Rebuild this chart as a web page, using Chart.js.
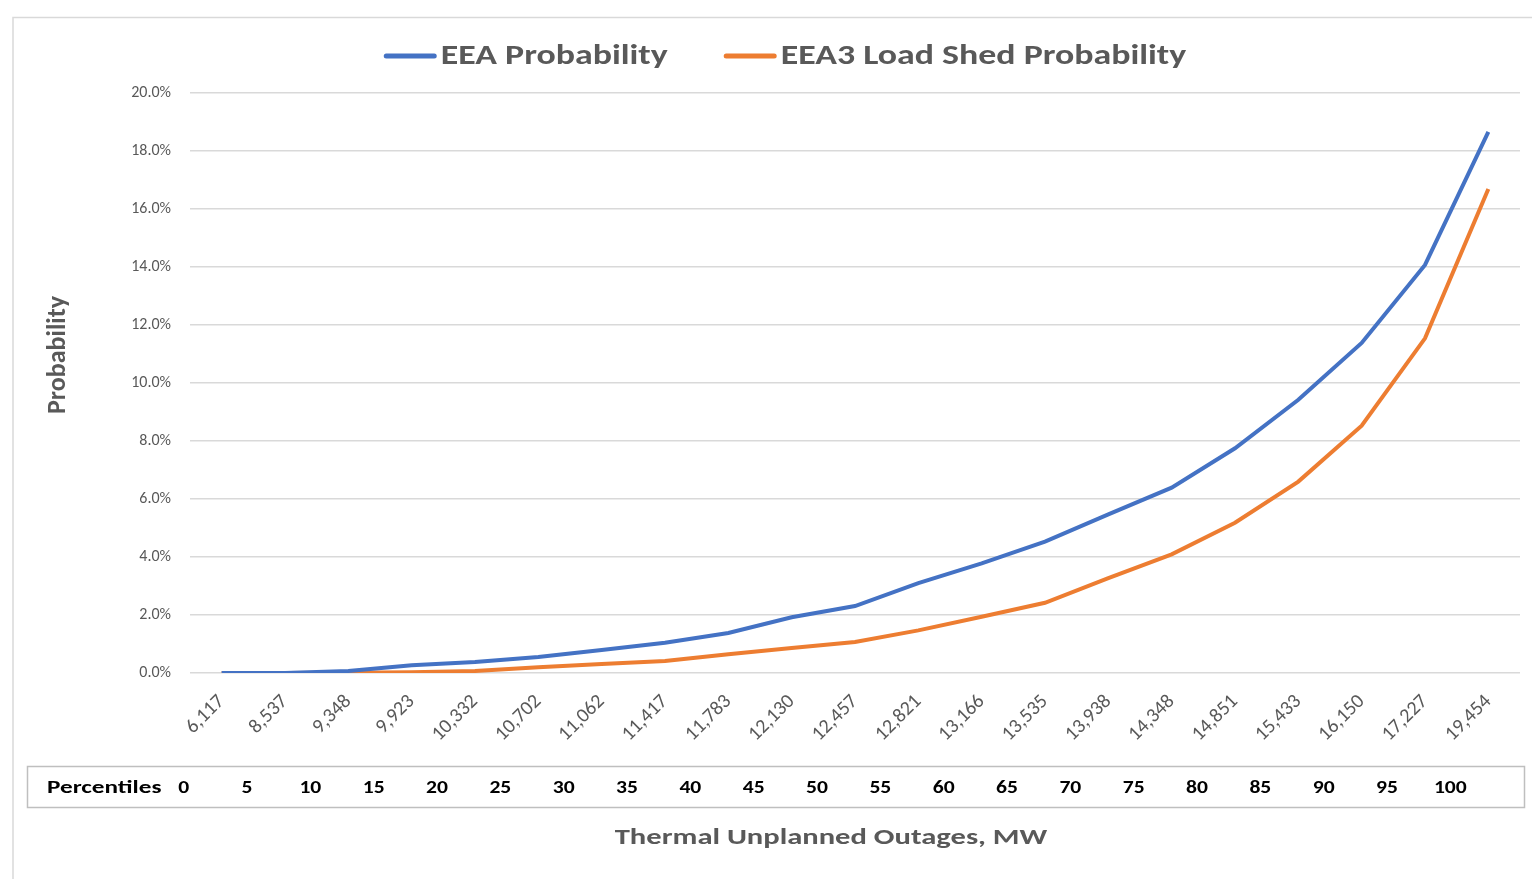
<!DOCTYPE html>
<html>
<head>
<meta charset="utf-8">
<script src="https://cdn.jsdelivr.net/npm/chart.js@4.4.1/dist/chart.umd.min.js"></script>
<style>
  html, body { margin: 0; padding: 0; background: #ffffff; }
  #wrap { position: relative; width: 1532px; height: 879px; }
  canvas { display: block; }
</style>
</head>
<body>
<div id="wrap"><canvas id="c" width="1532" height="879"></canvas></div>
<script>
// ---- data ----
const categories = ["6,117","8,537","9,348","9,923","10,332","10,702","11,062","11,417","11,783","12,130","12,457","12,821","13,166","13,535","13,938","14,348","14,851","15,433","16,150","17,227","19,454"];
const eeaProbability = [0.0, 0.0, 0.07, 0.27, 0.38, 0.55, 0.79, 1.04, 1.38, 1.92, 2.31, 3.1, 3.78, 4.53, 5.47, 6.39, 7.75, 9.42, 11.38, 14.07, 18.66];
const eea3LoadShed = [0.0, 0.0, 0.01, 0.03, 0.07, 0.2, 0.31, 0.41, 0.65, 0.86, 1.07, 1.47, 1.94, 2.42, 3.27, 4.09, 5.18, 6.6, 8.53, 11.54, 16.69];
const percentiles = ["0","5","10","15","20","25","30","35","40","45","50","55","60","65","70","75","80","85","90","95","100"];
const yTicks = [0, 2, 4, 6, 8, 10, 12, 14, 16, 18, 20];
const seriesNames = ["EEA Probability", "EEA3 Load Shed Probability"];
const xAxisTitle = "Thermal Unplanned Outages, MW";
const yAxisTitle = "Probability";
const tableHeader = "Percentiles";

const FONT = "Carlito, Lato, sans-serif";
const GREY = "#595959";

// draw text horizontally stretched by sx, anchored by align at (x,y)
function stretchText(ctx, text, x, y, sx, align) {
  const w = ctx.measureText(text).width * sx;
  let left = x;
  if (align === 'center') left = x - w / 2;
  else if (align === 'right') left = x - w;
  ctx.save();
  ctx.translate(left, y);
  ctx.scale(sx, 1);
  ctx.textAlign = 'left';
  ctx.fillText(text, 0, 0);
  ctx.restore();
  return w;
}

const decor = {
  id: 'decor',
  beforeDraw(chart) {
    const ctx = chart.ctx;
    ctx.save();
    ctx.fillStyle = '#ffffff';
    ctx.fillRect(0, 0, chart.width, chart.height);
    ctx.strokeStyle = '#d9d9d9';
    ctx.lineWidth = 1.5;
    ctx.beginPath();
    ctx.moveTo(13, 879);
    ctx.lineTo(13, 17.5);
    ctx.lineTo(1532, 17.5);
    ctx.stroke();
    ctx.restore();
  },
  afterDraw(chart) {
    const ctx = chart.ctx;
    const xs = chart.scales.x;
    ctx.save();
    // legend
    const LSX = 1.28;
    ctx.font = "bold 28px " + FONT;
    ctx.textBaseline = 'middle';
    const ds = chart.data.datasets;
    const lineW = 53, gapText = 4, gapItem = 56;
    const widths = ds.map(d => ctx.measureText(d.label).width * LSX);
    let total = 0;
    widths.forEach((w, i) => { total += lineW + gapText + w + (i < ds.length - 1 ? gapItem : 0); });
    let x = 785 - total / 2;
    const ly = 56;
    ds.forEach((d, i) => {
      ctx.strokeStyle = d.borderColor;
      ctx.lineWidth = 5;
      ctx.lineCap = 'round';
      ctx.beginPath();
      ctx.moveTo(x + 2.5, ly);
      ctx.lineTo(x + lineW - 2.5, ly);
      ctx.stroke();
      x += lineW + gapText;
      ctx.fillStyle = GREY;
      stretchText(ctx, d.label, x, ly + 1, LSX, 'left');
      x += widths[i] + gapItem;
    });
    // y axis title
    ctx.save();
    ctx.translate(58, 355);
    ctx.rotate(-Math.PI / 2);
    ctx.font = "bold 26px " + FONT;
    ctx.fillStyle = GREY;
    ctx.textAlign = 'center';
    ctx.textBaseline = 'middle';
    ctx.fillText(yAxisTitle, 0, 0);
    ctx.restore();
    // percentile table
    ctx.strokeStyle = '#bfbfbf';
    ctx.lineWidth = 1.5;
    ctx.strokeRect(27.5, 766.5, 1497, 41);
    ctx.fillStyle = '#000000';
    ctx.font = "bold 18px " + FONT;
    ctx.textBaseline = 'middle';
    stretchText(ctx, tableHeader, 47, 788, 1.4, 'left');
    percentiles.forEach((p, i) => {
      stretchText(ctx, p, xs.getPixelForValue(i) - 38, 788, 1.2, 'center');
    });
    // x axis title
    ctx.font = "bold 22px " + FONT;
    ctx.fillStyle = GREY;
    ctx.textBaseline = 'middle';
    stretchText(ctx, xAxisTitle, 831, 838, 1.39, 'center');
    ctx.restore();
  }
};

new Chart(document.getElementById('c'), {
  type: 'line',
  data: {
    labels: categories,
    datasets: [
      { label: seriesNames[0], data: eeaProbability, borderColor: '#4472c4', backgroundColor: '#4472c4', borderWidth: 4, pointRadius: 0, tension: 0, fill: false },
      { label: seriesNames[1], data: eea3LoadShed, borderColor: '#ed7d31', backgroundColor: '#ed7d31', borderWidth: 4, pointRadius: 0, tension: 0, fill: false }
    ]
  },
  options: {
    responsive: false,
    animation: false,
    devicePixelRatio: 1,
    layout: { padding: { left: 0, right: 12, top: 93, bottom: 0 } },
    plugins: { legend: { display: false }, tooltip: { enabled: false } },
    scales: {
      x: {
        offset: true,
        grid: { display: false, drawTicks: false },
        border: { display: false },
        ticks: {
          autoSkip: false, minRotation: 45, maxRotation: 45, padding: 17,
          color: GREY, font: { family: FONT, size: 20 }
        },
        afterFit(s) { s.height = 206; }
      },
      y: {
        min: 0, max: 20,
        afterBuildTicks(s) { s.ticks = yTicks.map(v => ({ value: v })); },
        grid: { color: '#d9d9d9', lineWidth: 1.5, drawTicks: false },
        border: { display: false },
        ticks: {
          padding: 19, color: GREY, font: { family: FONT, size: 16 },
          callback: v => v.toFixed(1) + '%'
        },
        afterFit(s) { s.width = 190; }
      }
    }
  },
  plugins: [decor]
});
</script>
</body>
</html>
